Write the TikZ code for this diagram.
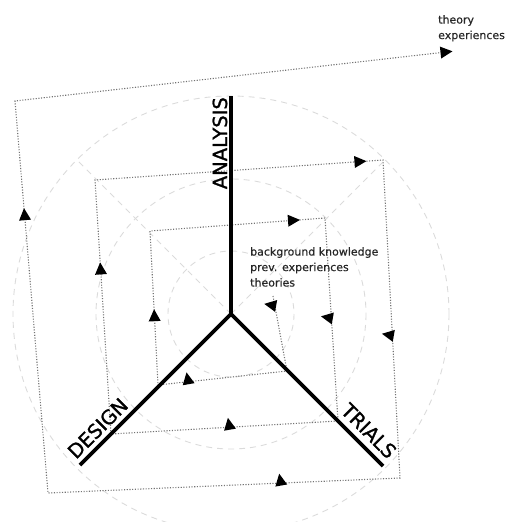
\documentclass[tikz,border=0pt]{standalone}
\usepackage{fontspec}
\setmainfont{DejaVu Sans}
\newfontfamily\labelfont[FakeBold=1.2]{DejaVu Sans}
\newfontfamily\notefont[FakeBold=0.4]{DejaVu Sans}
\usetikzlibrary{calc}
\begin{document}
\begin{tikzpicture}[x=1pt,y=-1pt,
  guide/.style={draw=black!14, line width=0.9pt, dash pattern=on 6pt off 5pt},
  flow/.style={draw=black!55, line width=1.1pt, dash pattern=on 1.1pt off 1.6pt},
  axis/.style={draw=black, line width=3.8pt},
  axlabel/.style={font=\labelfont\fontsize{19.5}{23}\selectfont, inner sep=0pt},
  note/.style={font=\notefont\fontsize{11}{15.5}\selectfont, text=black!85, align=left, inner sep=0pt},
  tri/.pic={\fill[black] (6.5,0) -- (-5.5,6) -- (-5.5,-6) -- cycle;}
]
\useasboundingbox (0,0) rectangle (511,522);
\clip (0,0) rectangle (511,522);

% centre and axis ends
\coordinate (O) at (231,314);
\coordinate (A) at (231,96);
\coordinate (D) at (80,465);
\coordinate (T) at (383,466);
\coordinate (TLd) at (77,160);
\coordinate (TRd) at (385,160);

% guide circles and diagonals
\draw[guide] (O) circle[radius=63];
\draw[guide] (O) circle[radius=135];
\draw[guide] (O) circle[radius=218];
\draw[guide] (O) -- (TLd);
\draw[guide] (O) -- (TRd);

% spiral corners
\coordinate (S) at (273,296);
\coordinate (BR1) at (287,371);
\coordinate (BL1) at (158,385);
\coordinate (TL1) at (150,231);
\coordinate (TR1) at (325,218);
\coordinate (BR2) at (338,421);
\coordinate (BL2) at (111,434);
\coordinate (TL2) at (95,180);
\coordinate (TR2) at (383,160);
\coordinate (BR3) at (400,478);
\coordinate (BL3) at (48,493);
\coordinate (TL3) at (15,101);
\coordinate (E) at (446,52);

\draw[flow] (S) -- (BR1) -- (BL1) -- (TL1) -- (TR1) -- (BR2) -- (BL2) -- (TL2)
  -- (TR2) -- (BR3) -- (BL3) -- (TL3) -- (E);

% arrow heads
\pic[rotate=170] at ($(S)!0.12!(BR1)+(-4,0)$) {tri};
\pic[rotate=100] at ($(BR1)!0.77!(BL1)+(0,-3)$) {tri};
\pic[rotate=93] at ($(BL1)!0.45!(TL1)$) {tri};
\pic[rotate=4] at ($(TL1)!0.82!(TR1)$) {tri};
\pic[rotate=170] at ($(TR1)!0.49!(BR2)+(-4,0)$) {tri};
\pic[rotate=100] at ($(BR2)!0.48!(BL2)+(0,-3)$) {tri};
\pic[rotate=94] at ($(BL2)!0.65!(TL2)$) {tri};
\pic[rotate=4] at ($(TL2)!0.92!(TR2)$) {tri};
\pic[rotate=170] at ($(TR2)!0.55!(BR3)+(-4,0)$) {tri};
\pic[rotate=100] at ($(BR3)!0.34!(BL3)+(0,-3)$) {tri};
\pic[rotate=95] at ($(BL3)!0.71!(TL3)$) {tri};
\pic[rotate=6] at (E) {tri};

% axes
\draw[axis] (O) -- (A);
\draw[axis] (O) -- (D);
\draw[axis] (O) -- (T);

% labels
\node[axlabel, rotate=90, anchor=base east] (lA) at (227,97) {ANALYSIS};
\node[axlabel, rotate=45, anchor=base west] (lD) at (76,460) {DESIGN};
\node[axlabel, rotate=-45, anchor=base east] (lT) at (388,460) {TRIALS};

\node[note, anchor=north west] (bk) at (250,247) {background knowledge\\prev. experiences\\theories};
\node[note, anchor=north west] (te) at (438,15) {theory\\experiences};
\end{tikzpicture}
\end{document}
